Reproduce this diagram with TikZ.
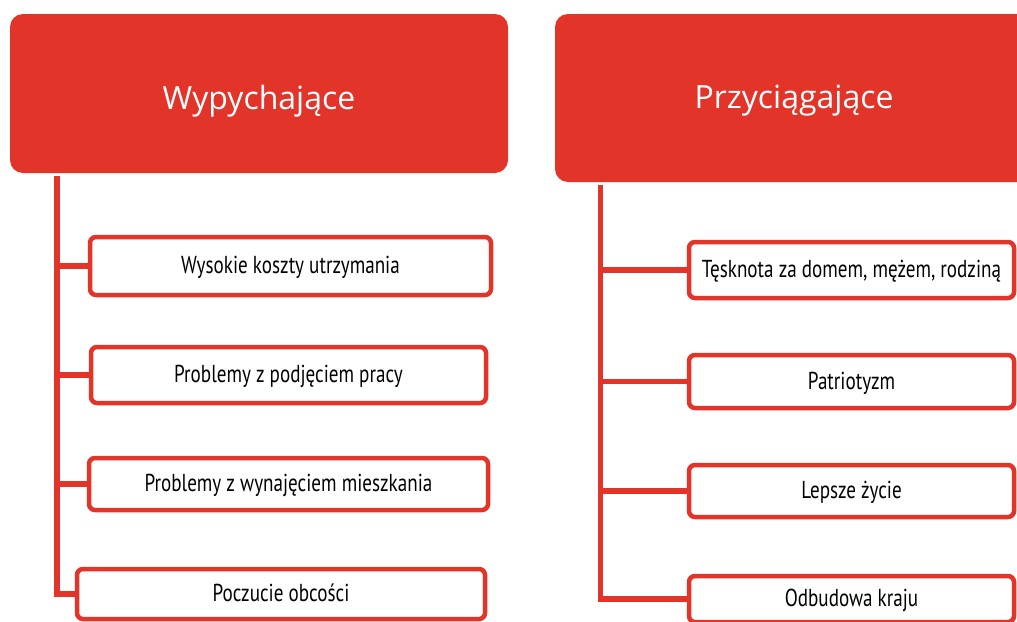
\documentclass[tikz,border=0pt]{standalone}
\usepackage{fontspec}
\newfontfamily\headfont{Open Sans}
\newfontfamily\boxfont[FakeStretch=0.78]{PT Sans}
\definecolor{myred}{HTML}{E3342A}
\begin{document}
\begin{tikzpicture}[x=1pt,y=-1pt,
  head/.style={fill=myred, rounded corners=13pt, inner sep=0pt, text=white,
    font=\headfont\fontsize{32}{38}\selectfont, text depth=0pt},
  item/.style={draw=myred, line width=4.5pt, fill=white, rounded corners=6pt,
    inner sep=0pt, font=\boxfont\fontsize{24.5}{28}\selectfont,
    text height=15pt, text depth=0pt},
  conn/.style={draw=myred, line width=5.5pt}]
\useasboundingbox (0,0) rectangle (1017,621);
\clip (0,0) rectangle (1017,621);

% headers
\node[head, minimum width=498pt, minimum height=159pt, text height=31pt] (hl) at (259,93.5) {Wypychające};
\node[head, minimum width=478pt, minimum height=168pt, text height=20pt] (hr) at (794,98) {Przyciągające};

% left items
\node[item, minimum width=401pt, minimum height=58pt] (l1) at (290.5,266) {Wysokie koszty utrzymania};
\node[item, minimum width=395pt, minimum height=56pt] (l2) at (288.5,375) {Problemy z podjęciem pracy};
\node[item, minimum width=399pt, minimum height=52pt] (l3) at (288.5,484) {Problemy z wynajęciem mieszkania};
\node[item, minimum width=408pt, minimum height=50pt] (l4) at (281,594) {Poczucie obcości};

% right items
\node[item, minimum width=325pt, minimum height=56pt] (r1) at (851.5,270) {Tęsknota za domem, mężem, rodziną};
\node[item, minimum width=325pt, minimum height=53pt] (r2) at (851.5,381.5) {Patriotyzm};
\node[item, minimum width=325pt, minimum height=52pt] (r3) at (851.5,491) {Lepsze życie};
\node[item, minimum width=325pt, minimum height=46pt] (r4) at (851.5,599) {Odbudowa kraju};

% trunk coordinates
\coordinate (ltop) at (57,176);
\coordinate (rtop) at (600.5,185);

% connectors
\draw[conn] (ltop) |- (l4.west);
\draw[conn] (ltop |- l1.west) -- (l1.west);
\draw[conn] (ltop |- l2.west) -- (l2.west);
\draw[conn] (ltop |- l3.west) -- (l3.west);

\draw[conn] (rtop) |- (r4.west);
\draw[conn] (rtop |- r1.west) -- (r1.west);
\draw[conn] (rtop |- r2.west) -- (r2.west);
\draw[conn] (rtop |- r3.west) -- (r3.west);
\end{tikzpicture}
\end{document}
